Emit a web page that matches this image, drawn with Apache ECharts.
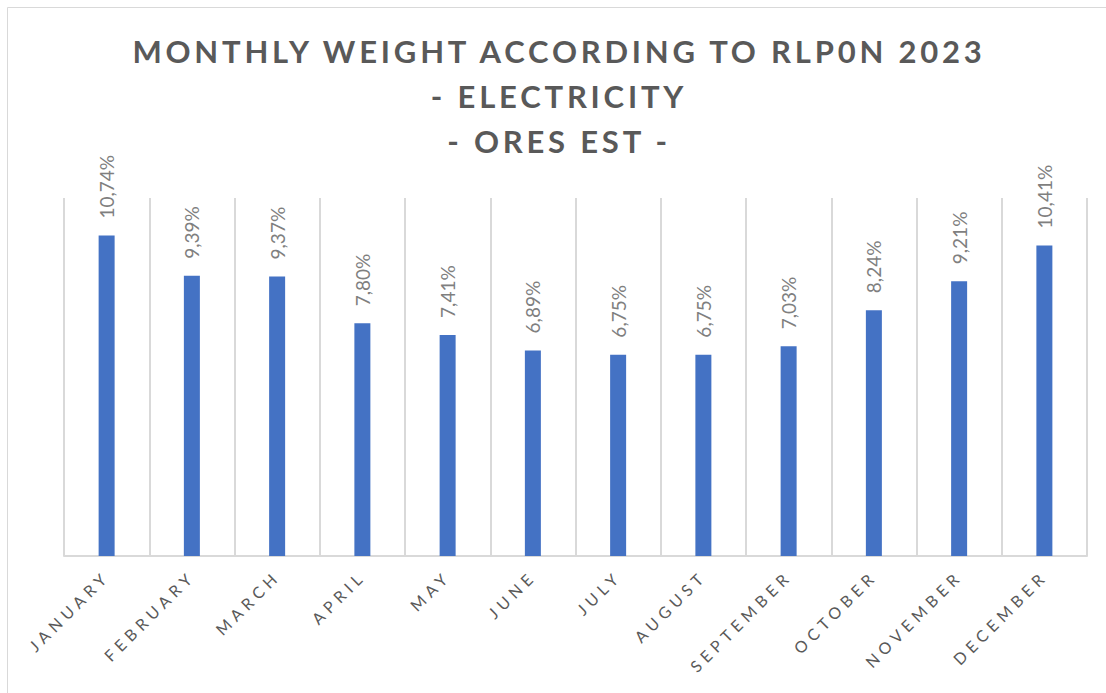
<!DOCTYPE html>
<html>
<head>
<meta charset="utf-8">
<script src="https://cdn.jsdelivr.net/npm/echarts@6/dist/echarts.min.js"></script>
<style>
html,body{margin:0;padding:0;background:#fff;}
#chart{width:1106px;height:693px;}
</style>
</head>
<body>
<div id="chart"></div>
<script>
const titleLines = ['MONTHLY WEIGHT ACCORDING TO RLP0N 2023', '- ELECTRICITY', '- ORES EST -'];
const months = ['JANUARY','FEBRUARY','MARCH','APRIL','MAY','JUNE','JULY','AUGUST','SEPTEMBER','OCTOBER','NOVEMBER','DECEMBER'];
const weights = [10.74, 9.39, 9.37, 7.80, 7.41, 6.89, 6.75, 6.75, 7.03, 8.24, 9.21, 10.41];
const yMax = 12;

const chart = echarts.init(document.getElementById('chart'), null, {renderer: 'svg'});
chart.setOption({
  animation: false,
  backgroundColor: '#ffffff',
  graphic: [{
    type: 'rect', shape: {x: 7.5, y: 7.5, width: 1120, height: 720},
    style: {fill: 'none', stroke: '#d9d9d9', lineWidth: 1}, silent: true
  }],
  title: {
    text: titleLines.join('\n'),
    left: 554,
    textAlign: 'center',
    top: 23,
    textStyle: {
      fontFamily: 'Lato', fontWeight: 'bold', fontSize: 31, color: '#595959', lineHeight: 45
    }
  },
  grid: {left: 64, right: 19, top: 198, bottom: 137, containLabel: false},
  xAxis: {
    type: 'category',
    data: months,
    axisLine: {lineStyle: {color: '#d9d9d9', width: 2}},
    axisTick: {show: false},
    splitLine: {show: true, lineStyle: {color: '#d9d9d9', width: 2}},
    axisLabel: {
      rotate: 45, interval: 0, margin: 17,
      fontFamily: 'Lato', fontSize: 16, color: '#595959'
    }
  },
  yAxis: {
    type: 'value', min: 0, max: yMax,
    show: false, splitLine: {show: false}
  },
  series: [{
    type: 'bar',
    data: weights,
    barWidth: 16,
    itemStyle: {color: '#4472C4'},
    label: {
      show: true, position: 'top', rotate: 90, align: 'left', verticalAlign: 'middle',
      distance: 17, fontFamily: 'Lato', fontSize: 19, color: '#7f7f7f',
      formatter: p => p.value.toFixed(2).replace('.', ',') + '%'
    }
  }]
});

function spaceText() {
  const texts = document.querySelectorAll('#chart svg text');
  texts.forEach(t => {
    const s = t.textContent;
    let ls = 0;
    if (titleLines.includes(s)) ls = 3.8;
    else if (months.includes(s)) ls = 5;
    if (ls) {
      t.setAttribute('letter-spacing', ls);
      t.style.letterSpacing = ls + 'px';
    }
  });
}
spaceText();
chart.on('finished', spaceText);
</script>
</body>
</html>
